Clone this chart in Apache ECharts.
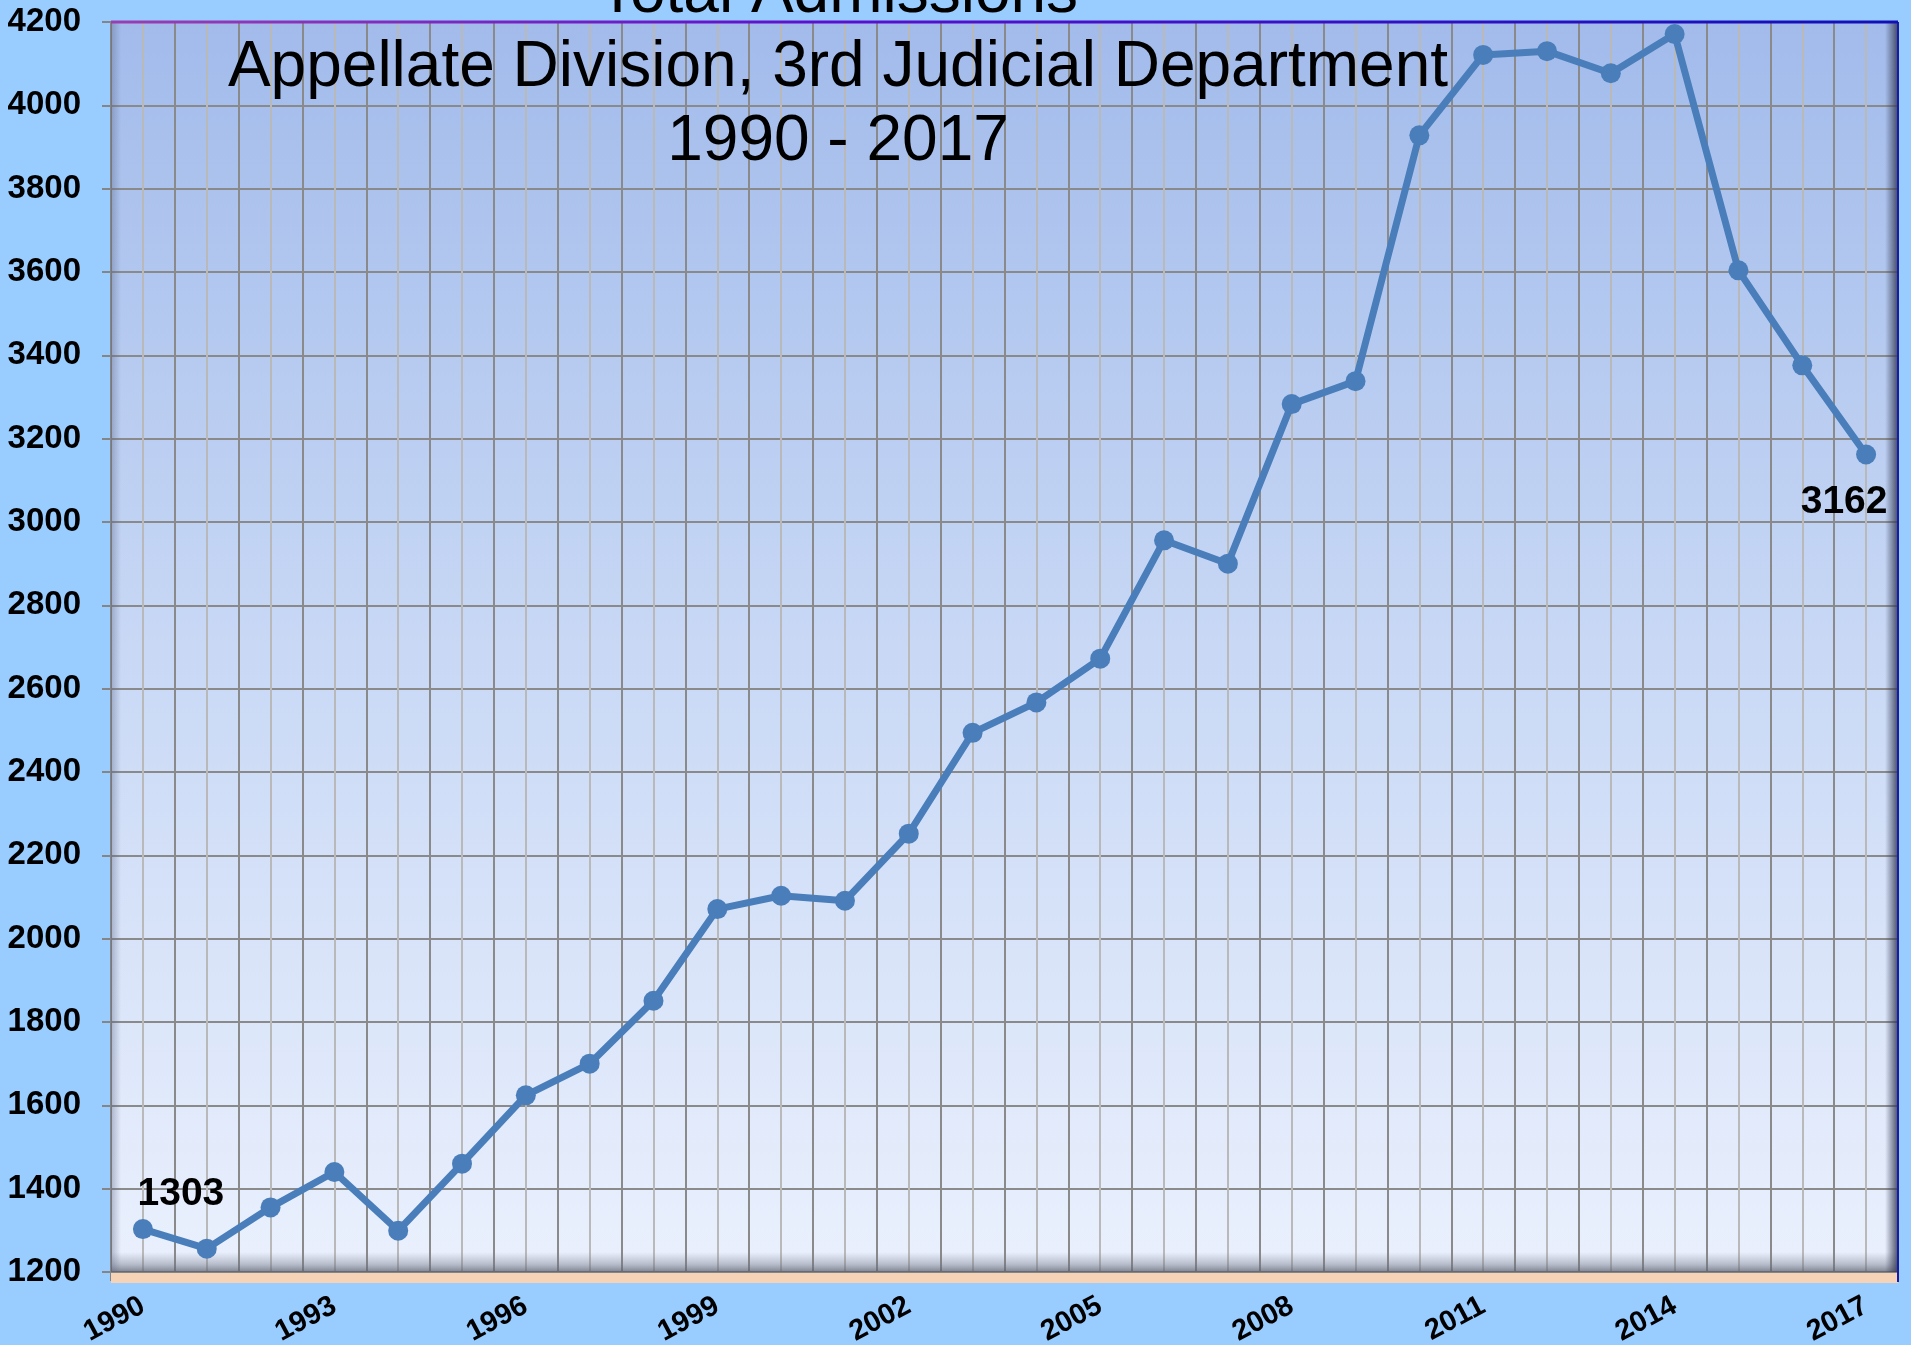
<!DOCTYPE html>
<html lang="en">
<head>
    <meta charset="UTF-8">
    <title>Total Admissions</title>
    <style>
        html,body{margin:0;padding:0;width:1911px;height:1345px;background:#99ccff;overflow:hidden;}
        #lineChart{width:1911px;height:1345px;}
    </style>
</head>
<body>
<div id="lineChart"></div>
<script src="https://cdn.jsdelivr.net/npm/echarts@6/dist/echarts.min.js"></script>
<script>
    // years on the category axis
    let years = ['1990','1991','1992','1993','1994','1995','1996','1997','1998','1999',
        '2000','2001','2002','2003','2004','2005','2006','2007','2008','2009',
        '2010','2011','2012','2013','2014','2015','2016','2017'];
    // total admissions per year
    let admissions = [1303,1256,1355,1440,1299,1460,1624,1700,1851,2071,
        2103,2091,2252,2494,2567,2672,2956,2900,3283,3338,
        3928,4121,4130,4077,4171,3604,3376,3162];
    let titleLines = ['Total Admissions','Appellate Division, 3rd Judicial Department','1990 - 2017'];

    let font = '"Liberation Sans", Arial, sans-serif';
    let gridL = 111, gridR = 13, gridT = 22, gridB = 73;
    let W = 1911, H = 1345;

    lineChart();

    function lineChart(){
        let myChart = echarts.init(document.getElementById('lineChart'));
        let last = admissions.length - 1;
        let seriesData = admissions.map(function (v, i) {
            if (i === 0) {
                return {value: v, label: {show: true, position: 'top', offset: [38, 0]}};
            }
            if (i === last) {
                return {value: v, label: {show: true, position: 'bottom', offset: [-22, 13]}};
            }
            return v;
        });
        let option = {
            backgroundColor: '#99ccff',
            animation: false,
            title: {
                text: titleLines.join('\n'),
                left: 833,
                top: -48,
                textAlign: 'center',
                textStyle: {
                    fontFamily: font,
                    fontSize: 64,
                    fontWeight: 'normal',
                    lineHeight: 74,
                    color: '#000'
                }
            },
            grid: {
                left: gridL,
                right: gridR,
                top: gridT,
                bottom: gridB,
                containLabel: false,
                outerBoundsMode: 'none',
                show: true,
                borderWidth: 0,
                backgroundColor: new echarts.graphic.LinearGradient(0, 0, 0, 1, [
                    {offset: 0, color: '#a2bbeb'},
                    {offset: 0.5, color: '#c8d8f5'},
                    {offset: 1, color: '#eaf0fd'}
                ])
            },
            graphic: [
                // peach floor strip under the axis
                {type: 'rect', z: 1, shape: {x: gridL, y: H - gridB + 1, width: W - gridL - gridR, height: 10},
                    style: {fill: '#f6d3b6'}},
                // floor shading
                {type: 'rect', z: 1, shape: {x: gridL, y: H - gridB - 20, width: W - gridL - gridR, height: 20},
                    style: {fill: new echarts.graphic.LinearGradient(0, 0, 0, 1, [
                        {offset: 0, color: 'rgba(120,125,140,0)'},
                        {offset: 0.6, color: 'rgba(110,115,130,0.4)'},
                        {offset: 1, color: 'rgba(90,95,110,0.75)'}
                    ])}},
                // left wall shading
                {type: 'rect', z: 1, shape: {x: gridL, y: gridT, width: 10, height: H - gridT - gridB},
                    style: {fill: new echarts.graphic.LinearGradient(0, 0, 1, 0, [
                        {offset: 0, color: 'rgba(90,100,130,0.4)'},
                        {offset: 1, color: 'rgba(90,100,130,0)'}
                    ])}},
                // right wall shading
                {type: 'rect', z: 1, shape: {x: W - gridR - 13, y: gridT, width: 12, height: H - gridT - gridB},
                    style: {fill: new echarts.graphic.LinearGradient(0, 0, 1, 0, [
                        {offset: 0, color: 'rgba(60,65,90,0)'},
                        {offset: 1, color: 'rgba(50,55,80,0.8)'}
                    ])}},
                // right border
                {type: 'line', z: 3, shape: {x1: W - gridR, y1: gridT, x2: W - gridR, y2: H - gridB + 10},
                    style: {stroke: '#1a1aa8', lineWidth: 2}},
                // top border
                {type: 'line', z: 3, shape: {x1: gridL, y1: gridT, x2: W - gridR, y2: gridT},
                    style: {lineWidth: 3, stroke: new echarts.graphic.LinearGradient(0, 0, 1, 0, [
                        {offset: 0, color: '#9a3fb0'},
                        {offset: 0.4, color: '#5a10d0'},
                        {offset: 1, color: '#1010b8'}
                    ])}}
            ],
            xAxis: [{
                type: 'category',
                boundaryGap: true,
                data: years,
                axisLine: {show: true, lineStyle: {color: '#858585', width: 2}},
                axisTick: {show: true, interval: 0, length: 9, lineStyle: {color: '#858585', width: 2}},
                axisLabel: {
                    interval: 2,
                    rotate: 28,
                    margin: 32,
                    color: '#000',
                    fontFamily: font,
                    fontSize: 29,
                    fontWeight: 'bold'
                },
                splitLine: {show: true, interval: 0, lineStyle: {color: '#8a8a8a', width: 2}}
            }, {
                // helper axis for the light centre lines
                type: 'value',
                position: 'top',
                min: 0,
                max: years.length,
                interval: 1,
                axisLine: {show: false},
                axisTick: {show: false},
                axisLabel: {show: false},
                splitLine: {show: false},
                minorTick: {show: false, splitNumber: 2},
                minorSplitLine: {show: true, lineStyle: {color: '#b9b9b9', width: 2}}
            }],
            yAxis: {
                type: 'value',
                min: 1200,
                max: 4200,
                interval: 200,
                axisLine: {show: true, lineStyle: {color: '#858585', width: 2}},
                axisTick: {show: true, length: 9, lineStyle: {color: '#858585', width: 2}},
                axisLabel: {
                    margin: 30,
                    color: '#000',
                    fontFamily: font,
                    fontSize: 33,
                    fontWeight: 'bold',
                    formatter: function (v) { return String(v); }
                },
                splitLine: {show: true, lineStyle: {color: '#8a8a8a', width: 2}}
            },
            series: [{
                type: 'line',
                xAxisIndex: 0,
                data: seriesData,
                symbol: 'circle',
                symbolSize: 20,
                z: 5,
                lineStyle: {color: '#4a7ebb', width: 7},
                itemStyle: {color: '#4a7ebb'},
                label: {
                    show: false,
                    color: '#000',
                    fontFamily: font,
                    fontSize: 39,
                    fontWeight: 'bold'
                }
            }]
        };
        myChart.setOption(option);
    }
</script>
</body>
</html>
